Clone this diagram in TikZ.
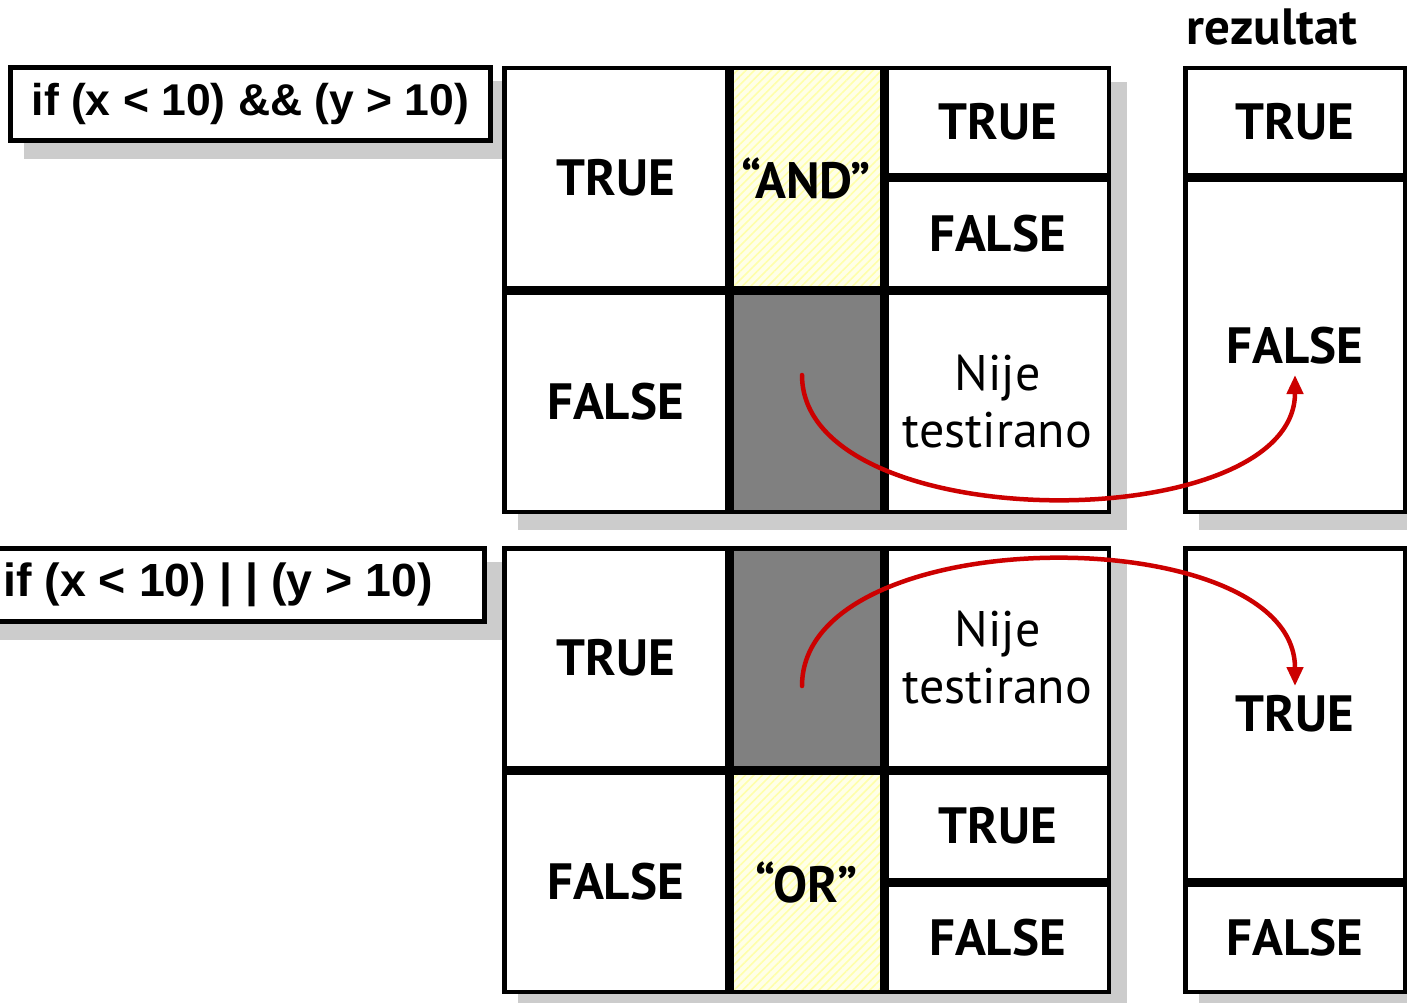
\documentclass[tikz,border=0pt]{standalone}
\usepackage{fontspec}
\setmainfont{PT Sans}
\newfontfamily\codefont{Liberation Sans}
\usetikzlibrary{arrows.meta, positioning, backgrounds, patterns.meta}
\definecolor{shadowgray}{RGB}{204,204,204}
\definecolor{flowred}{RGB}{204,0,0}
\definecolor{hatchbg}{RGB}{255,255,232}
\definecolor{hatchline}{RGB}{255,255,170}

\begin{document}
\begin{tikzpicture}[x=1pt, y=-1pt,
    cell/.style={draw, line width=4.5pt, outer sep=2.25pt, fill=white, inner sep=0pt,
      minimum width=222.5pt, minimum height=219.5pt,
      font=\fontsize{51}{57}\selectfont\bfseries, align=center},
    half/.style={minimum height=107.5pt},
    tall/.style={minimum height=331.5pt},
    narrow/.style={minimum width=150.5pt, text width=150.5pt},
    result/.style={minimum width=219.5pt},
    note/.style={font=\fontsize{50}{57}\selectfont\mdseries},
    hatched/.style={preaction={fill=hatchbg},
      pattern={Lines[angle=45,distance=6pt,line width=1.6pt]}, pattern color=hatchline,
      line width=4.5pt},
    dark/.style={fill=black!50},
    code/.style={draw, line width=5pt, fill=white, inner sep=0pt,
      minimum height=73pt, font=\codefont\fontsize{46.5}{56}\selectfont\bfseries},
    dropshade/.style={fill=shadowgray},
    flow/.style={-{Triangle[length=19pt, width=16pt]}, line width=4.5pt,
      flowred, line cap=round}
  ]
  \useasboundingbox (0,0) rectangle (1407,1003);

  % AND table
  \node[cell, anchor=north west] (a1) at (502,66) {TRUE};
  \node[cell, below=0pt of a1] (a2) {FALSE};
  \node[cell, narrow, hatched, right=0pt of a1] (a3) {“AND”};
  \node[cell, narrow, dark, below=0pt of a3] (a4) {};
  \node[cell, half, anchor=north west] (a5) at (a3.north east) {TRUE};
  \node[cell, half, below=0pt of a5] (a6) {FALSE};
  \node[cell, note, below=0pt of a6] (a7) {Nije\\testirano};
  \node[cell, result, half, anchor=north west] (r1) at (1183,66) {TRUE};
  \node[cell, result, tall, below=0pt of r1] (r2) {FALSE};
  \node[font=\fontsize{51}{57}\selectfont\bfseries] (res) at (1272,27) {rezultat};
  \node[code, minimum width=480pt, anchor=north west,
    font=\codefont\fontsize{44.5}{56}\selectfont\bfseries] (c1) at (8,65)
    {if (x < 10) \&\& (y > 10)};

  % OR table
  \node[cell, anchor=north west] (b1) at (502,546) {TRUE};
  \node[cell, below=0pt of b1] (b2) {FALSE};
  \node[cell, narrow, dark, right=0pt of b1] (b3) {};
  \node[cell, narrow, hatched, below=0pt of b3] (b4) {“OR”};
  \node[cell, note, anchor=north west] (b5) at (b3.north east) {Nije\\testirano};
  \node[cell, half, below=0pt of b5] (b6) {TRUE};
  \node[cell, half, below=0pt of b6] (b7) {FALSE};
  \node[cell, result, tall, anchor=north west] (s1) at (1183,546) {TRUE};
  \node[cell, result, half, below=0pt of s1] (s2) {FALSE};
  \node[code, minimum width=533pt, anchor=north east] (c2) at ([xshift=-15]b1.north west)
    {if (x < 10) | | (y > 10)};

  % shadows
  \begin{scope}[on background layer]
    \fill[dropshade] ([shift={(16,16)}]c1.north west) rectangle ([shift={(16,16)}]c1.south east);
    \fill[dropshade] ([shift={(16,16)}]a1.north west) rectangle ([shift={(16,16)}]a7.south east);
    \fill[dropshade] ([shift={(16,16)}]r1.north west) rectangle ([shift={(16,16)}]r2.south east);
    \fill[dropshade] ([shift={(16,16)}]c2.north west) rectangle ([shift={(16,16)}]c2.south east);
    \fill[dropshade] ([shift={(16,16)}]b1.north west) rectangle ([shift={(16,16)}]b7.south east);
    \fill[dropshade] ([shift={(16,16)}]s1.north west) rectangle ([shift={(16,16)}]s2.south east);
  \end{scope}

  % short-circuit jumps
  \coordinate (and-skip) at (802,375);
  \coordinate (and-res) at (1295,375);
  \coordinate (or-skip) at (802,686);
  \coordinate (or-res) at (1295,686);
  \draw[flow] (and-skip) .. controls (802,539) and (1295,539) .. (and-res);
  \draw[flow] (or-skip) .. controls (802,518) and (1295,518) .. (or-res);
\end{tikzpicture}
\end{document}
